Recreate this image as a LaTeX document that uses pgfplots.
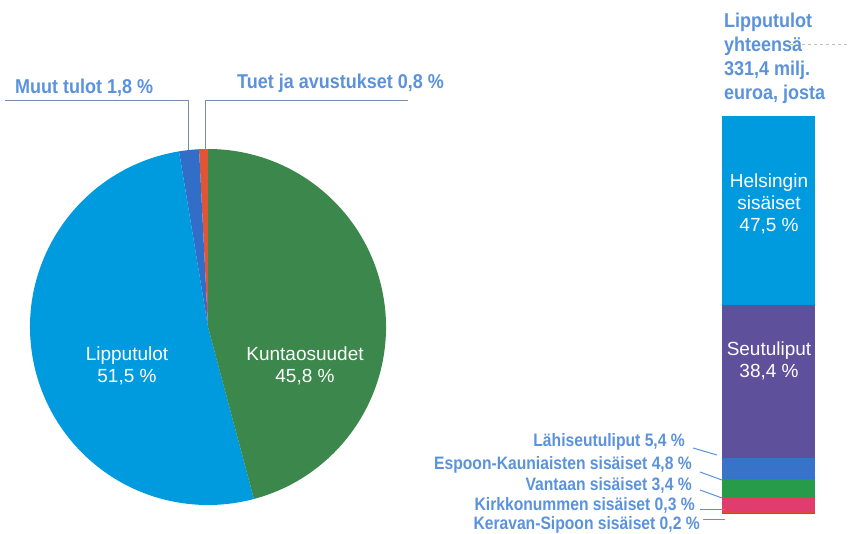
\documentclass[border=0pt]{standalone}
\usepackage{fontspec}
\setmainfont{Liberation Sans}
\newfontfamily\lblA[FakeStretch=0.9]{Liberation Sans}
\newfontfamily\lblB[FakeStretch=0.87]{Liberation Sans}
\usepackage{pgfplots}
\usepackage{pgfplotstable}
\pgfplotsset{compat=1.18}

\definecolor{cLippu}{RGB}{0,155,222}
\definecolor{cKunta}{RGB}{60,135,75}
\definecolor{cMuut}{RGB}{50,110,200}
\definecolor{cTuet}{RGB}{225,85,55}
\definecolor{cSeutu}{RGB}{95,80,155}
\definecolor{cLahi}{RGB}{55,115,200}
\definecolor{cEspoo}{RGB}{40,155,75}
\definecolor{cVantaa}{RGB}{225,60,110}
\definecolor{cKirkko}{RGB}{225,75,60}
\definecolor{cKerava}{RGB}{205,60,50}
\definecolor{cTxt}{RGB}{91,146,220}
\definecolor{cLine}{RGB}{120,140,175}

% tulot, % (vastapaivaan ylhaalta)
\pgfplotstableread{
name  share col
tuet  0.8   cTuet
muut  1.8   cMuut
lippu 51.5  cLippu
kunta 45.8  cKunta
}\piedata
\def\pietotal{99.9}

\begin{document}
\begin{tikzpicture}
\useasboundingbox (0,0) rectangle (850pt,533pt);

% piirakka
\begin{axis}[at={(208pt,206pt)}, anchor=center, scale only axis,
  width=356pt, height=356pt, xmin=-1, xmax=1, ymin=-1, ymax=1,
  hide axis, clip=false]
\pgfplotstablegetrowsof{\piedata}
\pgfmathtruncatemacro\lastrow{\pgfplotsretval-1}
\gdef\angcur{90}
\pgfplotsforeachungrouped \i in {0,...,\lastrow}{%
  \pgfplotstablegetelem{\i}{share}\of\piedata
  \let\sliceval\pgfplotsretval
  \pgfplotstablegetelem{\i}{col}\of\piedata
  \let\slicecol\pgfplotsretval
  \pgfmathsetmacro\angnext{\angcur+\sliceval/\pietotal*360}
  \edef\temp{\noexpand\fill[\slicecol] (axis cs:0,0) -- ++(\angcur:178pt)
    arc[start angle=\angcur, end angle=\angnext, radius=178pt] -- cycle;}
  \temp
  \global\let\angcur\angnext
}
\end{axis}

% lipputulojen pylvas
\begin{axis}[at={(722pt,19pt)}, anchor=south west, scale only axis,
  width=93pt, height=398pt, xmin=-0.5, xmax=0.5, ymin=0, ymax=100,
  hide axis, clip=false, ybar stacked, bar width=93pt]
\addplot[fill=cKerava, draw=none] coordinates {(0,0.2)};
\addplot[fill=cKirkko, draw=none] coordinates {(0,0.3)};
\addplot[fill=cVantaa, draw=none] coordinates {(0,3.4)};
\addplot[fill=cEspoo, draw=none] coordinates {(0,4.8)};
\addplot[fill=cLahi, draw=none] coordinates {(0,5.4)};
\addplot[fill=cSeutu, draw=none] coordinates {(0,38.4)};
\addplot[fill=cLippu, draw=none] coordinates {(0,47.5)};
\end{axis}

% piirakan tekstit
\node[text=white, align=center, font=\fontsize{19}{22}\selectfont, inner sep=0]
  at (127pt,167pt) {Lipputulot\\51,5 \%};
\node[text=white, align=center, font=\fontsize{19}{22}\selectfont, inner sep=0]
  at (305pt,167pt) {Kuntaosuudet\\45,8 \%};

\draw[cLine, line width=1pt] (5pt,432pt) -- (188pt,432pt) -- (188pt,383pt);
\draw[cLine, line width=1pt] (205pt,383pt) -- (205pt,432pt) -- (408pt,432pt);
\node[anchor=west, text=cTxt, font=\lblA\bfseries\fontsize{20}{24}\selectfont, inner sep=0]
  at (15pt,445pt) {Muut tulot 1,8 \%};
\node[anchor=west, text=cTxt, font=\lblA\bfseries\fontsize{20}{24}\selectfont, inner sep=0]
  at (237pt,450pt) {Tuet ja avustukset 0,8 \%};

% pylvaan tekstit
\node[anchor=north west, align=left, text=cTxt,
  font=\lblA\bfseries\fontsize{20}{24}\selectfont, inner sep=0]
  at (724pt,520pt) {Lipputulot\\yhteensä\\331,4 milj.\\euroa, josta};
\draw[black!25, dashed, line width=0.8pt] (790pt,489pt) -- (848pt,489pt);

\node[text=white, align=center, font=\fontsize{19}{22}\selectfont, inner sep=0]
  at (769pt,329pt) {Helsingin\\sisäiset\\47,5 \%};
\node[text=white, align=center, font=\fontsize{19}{22}\selectfont, inner sep=0]
  at (769pt,172pt) {Seutuliput\\38,4 \%};

\foreach \xx/\yy/\tt in {685/91/{Lähiseutuliput 5,4 \%},
    692/68/{Espoon-Kauniaisten sisäiset 4,8 \%},
    692/48/{Vantaan sisäiset 3,4 \%},
    695/28/{Kirkkonummen sisäiset 0,3 \%},
    700/8/{Keravan-Sipoon sisäiset 0,2 \%}}
  \node[anchor=east, text=cTxt, font=\lblB\bfseries\fontsize{18}{22}\selectfont, inner sep=0]
    at (\xx pt,\yy pt) {\tt};

\draw[cTxt, line width=1pt] (693pt,85pt) -- (717pt,78pt);
\draw[cTxt, line width=1pt] (700pt,61pt) -- (722pt,53pt);
\draw[cTxt, line width=1pt] (700pt,43pt) -- (722pt,35pt);
\draw[cTxt, line width=1pt] (700pt,24pt) -- (725pt,24pt);
\draw[cTxt, line width=1pt] (703pt,14pt) -- (725pt,14pt);
\end{tikzpicture}
\end{document}
